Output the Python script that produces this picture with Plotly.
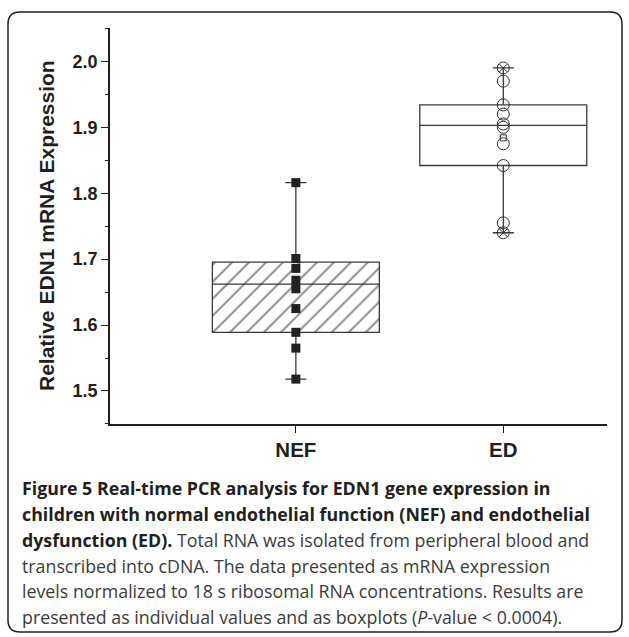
import plotly.graph_objects as go

# ---- data ----
categories = ["NEF", "ED"]
cat_pos = [1, 2]

nef_values = [1.816, 1.701, 1.686, 1.668, 1.655, 1.625, 1.589, 1.565, 1.518]
ed_values = [1.990, 1.970, 1.934, 1.920, 1.905, 1.900, 1.875, 1.842, 1.755, 1.740]

q1_vals = [1.589, 1.842]
median_vals = [1.662, 1.903]
q3_vals = [1.6955, 1.934]
low_vals = [1.518, 1.740]
high_vals = [1.816, 1.990]
ed_mean = [1.884]

y_ticks = [1.5, 1.6, 1.7, 1.8, 1.9, 2.0]
y_ticktext = ["1.5", "1.6", "1.7", "1.8", "1.9", "2.0"]

DARK = "#231f20"
B_ = f"<span style='color:{DARK}'><b>"
_B = "</b></span>"
caption_lines = [
    f"{B_}Figure 5 Real-time PCR analysis for EDN1 gene expression in{_B}",
    f"{B_}children with normal endothelial function (NEF) and endothelial{_B}",
    f"{B_}dysfunction (ED).{_B} Total RNA was isolated from peripheral blood and",
    "transcribed into cDNA. The data presented as mRNA expression",
    "levels normalized to 18 s ribosomal RNA concentrations. Results are",
    "presented as individual values and as boxplots (<i>P</i>-value &lt; 0.0004).",
]

# ---- layout geometry (pixels) ----
W, H = 629, 637
L, R, T, B = 110, 22, 28, 213
pw, ph = W - L - R, H - T - B

def px_x(x):
    return (x - L) / pw

def px_y(y):
    return (H - B - y) / ph

BOXW = 0.805

fig = go.Figure()

# hatched fill for NEF box
fig.add_trace(go.Bar(
    x=[cat_pos[0]], y=[q3_vals[0] - q1_vals[0]], base=[q1_vals[0]], width=[BOXW],
    marker=dict(color="white", line=dict(width=0),
                pattern=dict(shape="/", size=12, solidity=0.14,
                             fgcolor="#000", bgcolor="white")),
    showlegend=False, hoverinfo="skip",
))

# box outlines / whiskers
for i in range(2):
    fig.add_trace(go.Box(
        x=[cat_pos[i]], q1=[q1_vals[i]], median=[median_vals[i]], q3=[q3_vals[i]],
        lowerfence=[low_vals[i]], upperfence=[high_vals[i]],
        width=BOXW, whiskerwidth=0.126, boxpoints=False,
        fillcolor="rgba(0,0,0,0)", line=dict(color="#3a3a3a", width=1.3),
        showlegend=False,
    ))

# individual points
fig.add_trace(go.Scatter(
    x=[cat_pos[0]] * len(nef_values), y=nef_values, mode="markers",
    marker=dict(symbol="square", size=9, color=DARK), showlegend=False,
))
fig.add_trace(go.Scatter(
    x=[cat_pos[1]] * len(ed_values), y=ed_values, mode="markers",
    marker=dict(symbol="circle-open", size=12, color="#333",
                line=dict(width=1, color="#333")), showlegend=False,
))
fig.add_trace(go.Scatter(
    x=[cat_pos[1]] * 2, y=[low_vals[1], high_vals[1]], mode="markers",
    marker=dict(symbol="x-thin-open", size=8, color="#333",
                line=dict(width=1, color="#333")),
    showlegend=False,
))
fig.add_trace(go.Scatter(
    x=[cat_pos[1]], y=ed_mean, mode="markers",
    marker=dict(symbol="square-open", size=6, color="#333",
                line=dict(width=1, color="#333")),
    showlegend=False,
))

fig.update_layout(
    width=W, height=H, margin=dict(l=L, r=R, t=T, b=B),
    paper_bgcolor="white", plot_bgcolor="white",
    showlegend=False, barmode="overlay", boxmode="overlay",
    xaxis=dict(
        range=[0.104, 2.5], tickvals=cat_pos, ticktext=categories,
        showline=True, linecolor=DARK, linewidth=1.6, ticks="outside",
        ticklen=7, tickwidth=1.4, tickcolor=DARK, showgrid=False, zeroline=False,
        tickfont=dict(family="Liberation Sans, Arial", size=20.5, color=DARK, weight="bold"),
    ),
    yaxis=dict(
        range=[1.4499, 2.0506], tickvals=y_ticks, ticktext=y_ticktext,
        showline=True, linecolor=DARK, linewidth=1.6, ticks="outside",
        ticklen=7, tickwidth=1.4, tickcolor=DARK, showgrid=False, zeroline=False,
        tickfont=dict(family="Liberation Sans, Arial", size=18, color=DARK, weight="bold"),
        minor=dict(ticks="outside", ticklen=3, tickwidth=1.4, tickcolor=DARK,
                   dtick=0.05, tick0=1.45, showgrid=False),
    ),
)

# y-axis title
fig.add_annotation(
    text="Relative EDN1 mRNA Expression", textangle=-90,
    x=px_x(46), y=0.5, xref="paper", yref="paper", showarrow=False,
    xanchor="center", yanchor="middle",
    font=dict(family="Liberation Sans, Arial", size=21, color=DARK, weight="bold"),
)

# caption
cap_y = [488, 514, 540, 566, 591, 617]
for txt, yy in zip(caption_lines, cap_y):
    fig.add_annotation(
        text=txt, x=px_x(20), y=px_y(yy), xref="paper", yref="paper",
        showarrow=False, xanchor="left", yanchor="middle", align="left",
        font=dict(family="Open Sans", size=17.8, color="#3c3c3c"),
    )

# rounded frame
x0, x1, y0, y1, r = 8, 622, 12, 632, 12
path = (f"M {px_x(x0 + r)},{px_y(y0)} L {px_x(x1 - r)},{px_y(y0)} "
        f"Q {px_x(x1)},{px_y(y0)} {px_x(x1)},{px_y(y0 + r)} "
        f"L {px_x(x1)},{px_y(y1 - r)} Q {px_x(x1)},{px_y(y1)} {px_x(x1 - r)},{px_y(y1)} "
        f"L {px_x(x0 + r)},{px_y(y1)} Q {px_x(x0)},{px_y(y1)} {px_x(x0)},{px_y(y1 - r)} "
        f"L {px_x(x0)},{px_y(y0 + r)} Q {px_x(x0)},{px_y(y0)} {px_x(x0 + r)},{px_y(y0)} Z")
fig.add_shape(type="path", path=path, xref="paper", yref="paper",
              line=dict(color=DARK, width=1.5), fillcolor="rgba(0,0,0,0)", layer="below")

fig.write_html("out.html", config={"displayModeBar": False},
               post_script="document.body.style.margin='0px';")
